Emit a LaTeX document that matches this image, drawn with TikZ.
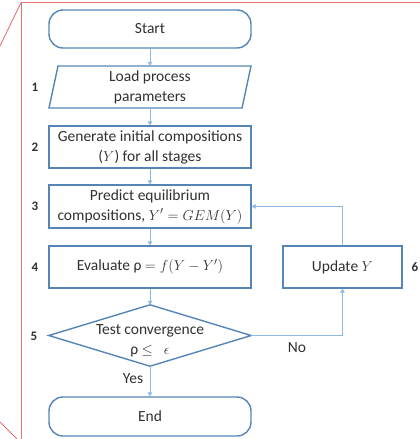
\documentclass[tikz,border=0pt]{standalone}
\usepackage{fontspec}
\setmainfont{Carlito}
\usetikzlibrary{arrows.meta}
\definecolor{boxline}{HTML}{5585B5}
\definecolor{flowline}{HTML}{8DB8E4}
\definecolor{txtgray}{HTML}{303030}
\definecolor{frame}{HTML}{E57373}
\tikzset{
  txt/.style={text=txtgray, font=\fontsize{15.5}{20}\selectfont, align=center, inner sep=0pt},
  stepbox/.style={txt, draw=boxline, line width=1.4pt, minimum width=202pt, minimum height=42pt},
  termbox/.style={stepbox, rounded corners=14pt, minimum height=38pt},
  shapeonly/.style={txt, minimum width=202pt, minimum height=42pt},
  outline/.style={draw=boxline, line width=1.4pt, line join=miter},
  flow/.style={draw=flowline, line width=0.9pt, -{Triangle[length=4pt,width=4.5pt]}},
  num/.style={text=txtgray, font=\fontsize{13}{15}\selectfont\bfseries, inner sep=0pt},
  lbl/.style={text=txtgray, font=\fontsize{15.5}{18}\selectfont, inner sep=0pt},
  framed/.style={draw=frame, line width=0.9pt}
}
\begin{document}
\begin{tikzpicture}[x=1pt,y=-1pt]
\useasboundingbox (0,0) rectangle (420,439);

% callout frame
\coordinate (fa) at (21,2.5);
\coordinate (fb) at (420,2.5);
\coordinate (fc) at (21,439);
\coordinate (fd) at (0,46);
\coordinate (fe) at (0,422);
\coordinate (ff) at (17,439);
\draw[framed] (fb) -- (fa) -- (fc);
\draw[framed] (fa) -- (fd);
\draw[framed] (fe) -- (ff);

% flowchart steps
\node[termbox] (start) at (150,29) {Start};
\node[shapeonly] (load) at (150,87) {Load process\\parameters};
\draw[outline] (58,66) -- (251,66) -- (242,108) -- (49,108) -- cycle;
\node[stepbox] (gen) at (150,147) {Generate initial compositions\\($Y$) for all stages};
\node[stepbox, minimum height=43pt] (pred) at (150,206.5) {Predict equilibrium\\compositions, $Y'=GEM(Y)$};
\node[stepbox] (eval) at (150,267) {Evaluate ρ $=f(Y-Y')$};
\node[shapeonly, minimum height=61pt] (test) at (150,335.5) {};
\draw[outline] (test.north) -- (test.east) -- (test.south) -- (test.west) -- cycle;
\node[txt] (testtxt) at (150,340.5) {Test convergence\\ρ $\leq\ \ \epsilon$};
\node[termbox, minimum height=39pt] (end) at (150,416.5) {End};
\node[stepbox, minimum width=119pt] (upd) at (342.5,267) {Update $Y$};

% step numbers
\node[num] (n1) at (35,87) {1};
\node[num] (n2) at (35,147) {2};
\node[num] (n3) at (35,206) {3};
\node[num] (n4) at (35,267) {4};
\node[num] (n5) at (34,336) {5};
\node[num] (n6) at (415,267) {6};

% connectors
\draw[flow] (start) -- (load.north);
\draw[flow] (load.south) -- (gen);
\draw[flow] (gen) -- (pred);
\draw[flow] (pred) -- (eval);
\draw[flow] (eval) -- (test.north);
\draw[flow] (test.south) -- (end);
\draw[flow] (test.east) -| (upd.south);
\draw[flow] (upd.north) |- (pred.east);

% branch labels
\node[lbl] (no) at (297,348) {No};
\node[lbl] (yes) at (133,379) {Yes};
\end{tikzpicture}
\end{document}
